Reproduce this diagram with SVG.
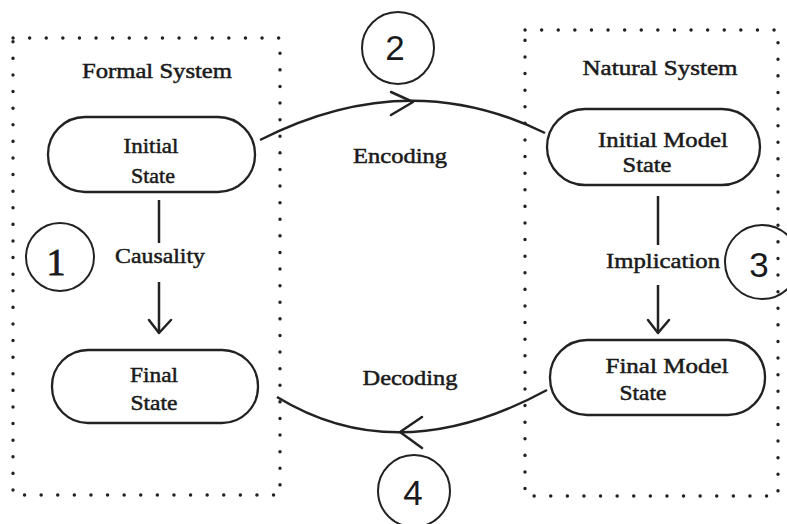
<svg xmlns="http://www.w3.org/2000/svg" width="787" height="524" viewBox="0 0 787 524">
<style>
.box{fill:none;stroke:#222;stroke-width:3.4;stroke-dasharray:0.1 16.5;stroke-linecap:round}
.node{fill:#fff;stroke:#222;stroke-width:2.3}
.t{font-family:"Liberation Serif","Times New Roman",serif;font-size:22px;fill:#1a1a1a;stroke:#1a1a1a;stroke-width:0.5;text-anchor:middle}
.num{font-family:"Liberation Sans",Arial,sans-serif;font-size:35px;fill:#1a1a1a;text-anchor:middle}
.num1{font-family:"Liberation Serif","Times New Roman",serif;font-size:38px;fill:#1a1a1a;stroke:#1a1a1a;stroke-width:0.8;text-anchor:middle}
.circ{fill:none;stroke:#222;stroke-width:2}
.edge{fill:none;stroke:#222;stroke-width:2.5}
.head{fill:none;stroke:#222;stroke-width:2.5;stroke-linecap:round;stroke-linejoin:round}
</style>
<rect width="787" height="524" fill="#fff"/>
<g id="formal-system">
<rect class="box" x="13" y="38" width="267" height="457"/>
<text class="t" x="157" y="78" textLength="150" lengthAdjust="spacingAndGlyphs">Formal System</text>
</g>
<g id="natural-system">
<rect class="box" x="525" y="30" width="253" height="466"/>
<text class="t" x="660" y="75" textLength="155" lengthAdjust="spacingAndGlyphs">Natural System</text>
</g>
<g id="initial-state">
<rect class="node" x="48" y="117" width="207" height="75" rx="37" ry="37"/>
<text class="t" x="151" y="153" textLength="55" lengthAdjust="spacingAndGlyphs">Initial</text>
<text class="t" x="153" y="183" textLength="44" lengthAdjust="spacingAndGlyphs">State</text>
</g>
<g id="final-state">
<rect class="node" x="52" y="350" width="206" height="73" rx="36" ry="36"/>
<text class="t" x="154" y="382" textLength="48" lengthAdjust="spacingAndGlyphs">Final</text>
<text class="t" x="154" y="410" textLength="47" lengthAdjust="spacingAndGlyphs">State</text>
</g>
<g id="initial-model-state">
<rect class="node" x="547" y="109" width="213" height="76" rx="38" ry="38"/>
<text class="t" x="663" y="147" textLength="130" lengthAdjust="spacingAndGlyphs">Initial Model</text>
<text class="t" x="647" y="172" textLength="49" lengthAdjust="spacingAndGlyphs">State</text>
</g>
<g id="final-model-state">
<rect class="node" x="550" y="340" width="215" height="75" rx="37" ry="37"/>
<text class="t" x="667" y="373" textLength="123" lengthAdjust="spacingAndGlyphs">Final Model</text>
<text class="t" x="643" y="400" textLength="47" lengthAdjust="spacingAndGlyphs">State</text>
</g>
<g id="label-1">
<circle class="circ" cx="60" cy="257" r="34"/>
<text class="num1" x="56" y="275">1</text>
</g>
<g id="label-2">
<circle class="circ" cx="398" cy="48" r="36"/>
<text class="num" x="395" y="60">2</text>
</g>
<g id="label-3">
<circle class="circ" cx="762" cy="262" r="37"/>
<text class="num" x="759" y="277">3</text>
</g>
<g id="label-4">
<circle class="circ" cx="414" cy="491" r="36"/>
<text class="num" x="413" y="505">4</text>
</g>
<g id="connectors">
<path class="edge" d="M260,140 Q407,65 545,133"/>
<path class="head" d="M391,92 L413,102 L391,115"/>
<text class="t" x="400" y="163" textLength="94" lengthAdjust="spacingAndGlyphs">Encoding</text>
<path class="edge" d="M547,390 Q398,471 277,397"/>
<path class="head" d="M422,417 L400,432 L422,448"/>
<text class="t" x="410" y="385" textLength="95" lengthAdjust="spacingAndGlyphs">Decoding</text>
<path class="edge" d="M159,200 L159,243"/>
<text class="t" x="160" y="263" textLength="90" lengthAdjust="spacingAndGlyphs">Causality</text>
<path class="edge" d="M159,282 L159,332"/>
<path class="head" d="M149,320 L159,333 L171,320"/>
<path class="edge" d="M658,196 L658,245"/>
<text class="t" x="663" y="268" textLength="114" lengthAdjust="spacingAndGlyphs">Implication</text>
<path class="edge" d="M658,285 L658,332"/>
<path class="head" d="M648,320 L658,333 L669,320"/>
</g>
</svg>
